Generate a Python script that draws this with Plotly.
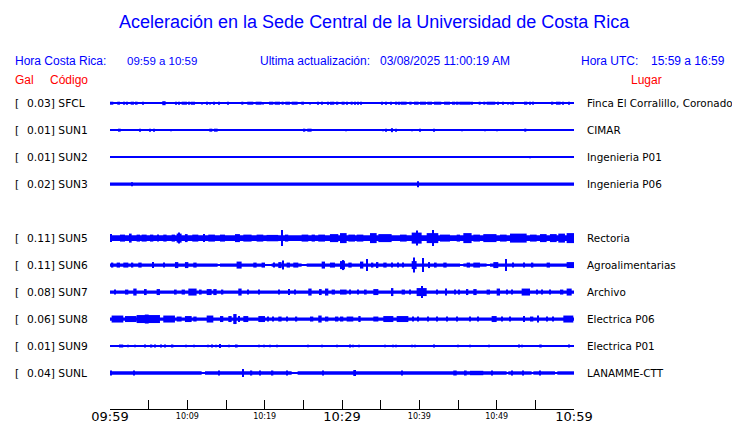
import plotly.graph_objects as go

# ---------------- data ----------------
rows = ["SFCL", "SUN1", "SUN2", "SUN3", None, "SUN5", "SUN6", "SUN7", "SUN8", "SUN9", "SUNL"]
peak_gal = {"SFCL": 0.03, "SUN1": 0.01, "SUN2": 0.01, "SUN3": 0.02, "SUN5": 0.11,
            "SUN6": 0.11, "SUN7": 0.08, "SUN8": 0.06, "SUN9": 0.01, "SUNL": 0.04}
places = {"SFCL": "Finca El Corralillo, Coronado", "SUN1": "CIMAR", "SUN2": "Ingenieria P01",
          "SUN3": "Ingenieria P06", "SUN5": "Rectoria", "SUN6": "Agroalimentarias",
          "SUN7": "Archivo", "SUN8": "Electrica P06", "SUN9": "Electrica P01",
          "SUNL": "LANAMME-CTT"}

# background noise level (display amplitude units)
noise_floor = {"SFCL": 0.6, "SUN1": 0.6, "SUN2": 0.6, "SUN3": 1.6, "SUN5": 2.8,
               "SUN6": 1.6, "SUN7": 1.6, "SUN8": 1.6, "SUN9": 0.6, "SUNL": 1.7}

# quiet intervals (minutes after 09:59) where the trace drops to the base line
quiet = {
    "SUN6": [(13.92, 14.22), (20.04, 20.9), (24.78, 25.43), (45.26, 45.69), (48.7, 49.14)],
    "SUNL": [(11.85, 12.28), (23.49, 24.26), (51.29, 51.51), (54.52, 54.74), (57.54, 57.84)],
}

# bursts: (start minute, end minute, half amplitude)
bursts = {
    "SFCL": [(0.0, 0.43, 1.5), (0.94, 1.29, 1.5), (1.81, 1.94, 1.5), (2.19, 2.19, 1.5), (2.67, 3.10, 1.5),
             (3.36, 3.57, 1.5), (4.26, 4.26, 1.5), (6.76, 7.19, 2.0), (8.53, 8.53, 1.5), (8.92, 8.92, 1.5),
             (9.26, 9.95, 1.5), (10.13, 10.38, 1.5), (10.56, 10.56, 1.5), (10.9, 10.9, 1.5), (11.93, 11.93, 1.2),
             (12.54, 12.54, 1.5), (12.97, 12.97, 1.2), (13.49, 13.49, 1.5), (14.0, 14.22, 1.5), (15.21, 15.21, 1.5),
             (16.98, 17.24, 1.5), (17.75, 18.53, 1.5), (18.83, 19.61, 1.5), (19.78, 19.78, 1.2), (20.56, 21.12, 1.5),
             (21.29, 21.98, 1.5), (22.19, 22.45, 1.5), (22.67, 23.27, 1.5), (23.49, 24.26, 1.5), (24.74, 25.08, 1.5),
             (25.9, 25.9, 1.2), (26.85, 26.85, 1.5), (27.28, 27.54, 1.5), (28.18, 28.18, 1.5), (28.49, 28.66, 1.5),
             (28.83, 29.0, 1.5), (29.22, 29.52, 1.5), (29.95, 30.34, 1.5), (30.52, 30.77, 1.5), (31.12, 31.38, 1.5),
             (31.72, 31.72, 1.5), (32.07, 32.07, 1.5), (32.41, 32.41, 1.5), (35.13, 35.13, 1.5), (35.64, 35.64, 1.5),
             (36.29, 36.29, 1.5), (36.94, 37.15, 1.5), (37.41, 37.41, 1.5), (37.58, 38.36, 1.5), (38.7, 39.0, 1.5),
             (39.31, 39.91, 1.5), (40.08, 40.86, 1.5), (41.03, 41.64, 1.5), (41.89, 42.84, 1.5), (43.19, 43.96, 1.5),
             (44.22, 44.65, 1.5), (44.83, 45.08, 1.5), (45.17, 46.64, 1.5), (46.81, 46.81, 1.5), (47.67, 47.93, 1.5),
             (48.27, 48.53, 1.5), (48.7, 49.82, 1.5), (50.17, 50.17, 1.5), (50.77, 50.77, 1.5), (51.42, 51.42, 1.2),
             (51.81, 51.81, 1.2), (52.07, 52.24, 1.5), (53.53, 53.96, 1.5), (54.22, 54.39, 1.5), (54.57, 54.83, 1.5),
             (57.07, 57.32, 1.5), (57.67, 58.27, 1.5), (58.62, 58.62, 1.5), (59.39, 59.39, 1.5)],
    "SUN1": [(1.16, 1.38, 1.5), (3.92, 3.92, 1.5), (5.17, 5.25, 1.5), (5.69, 5.69, 1.5), (7.93, 7.93, 1.0),
             (12.84, 13.23, 1.5), (13.44, 13.92, 1.5), (25.08, 25.25, 1.5), (25.51, 26.07, 1.5),
             (30.56, 30.56, 1.0), (35.34, 35.34, 1.0), (35.64, 35.64, 1.5), (36.33, 36.59, 2.0),
             (36.98, 36.98, 1.5), (39.09, 39.09, 1.0), (40.13, 40.13, 1.5), (41.94, 41.94, 1.5),
             (45.56, 45.56, 1.0), (48.53, 48.53, 1.0), (50.08, 50.08, 1.0), (53.57, 53.83, 1.5)],
    "SUN2": [(54.35, 54.35, 1.0)],
    "SUN3": [(2.88, 2.88, 2.0), (39.87, 39.87, 3.0)],
    "SUN5": [(0.0, 0.21, 4.0), (1.29, 1.94, 3.5), (2.58, 2.8, 4.5), (3.44, 3.88, 3.5), (4.09, 4.74, 3.5),
             (5.17, 5.6, 3.5), (6.25, 6.25, 3.5), (6.89, 7.32, 3.5), (7.97, 8.4, 3.5), (8.62, 9.26, 4.5),
             (8.92, 8.92, 5.5), (9.69, 10.04, 4.0), (10.64, 11.42, 3.5), (12.06, 12.28, 4.0), (12.71, 13.57, 3.5),
             (14.22, 14.87, 3.5), (16.16, 16.8, 4.0), (17.24, 18.31, 3.5), (18.96, 19.82, 3.5), (20.25, 21.76, 3.2),
             (22.28, 22.28, 8.0), (22.62, 23.05, 3.5), (24.78, 25.64, 3.5), (26.07, 26.5, 3.5), (26.93, 27.8, 3.5),
             (28.44, 29.52, 4.0), (29.74, 30.6, 5.0), (30.82, 31.68, 3.5), (31.9, 32.76, 3.5), (33.62, 34.48, 5.0),
             (34.7, 36.42, 4.0), (37.5, 38.36, 3.5), (39.01, 40.3, 5.5), (39.74, 39.74, 7.5), (40.95, 42.45, 5.0),
             (41.81, 41.81, 8.0), (42.67, 43.96, 3.5), (44.83, 45.26, 3.5), (45.69, 46.76, 5.0), (46.98, 47.84, 3.5),
             (48.27, 49.98, 4.0), (50.43, 51.29, 3.5), (51.72, 53.88, 4.5), (54.31, 55.17, 3.5), (55.6, 56.46, 4.0),
             (56.89, 57.76, 4.0), (57.97, 58.83, 4.5), (59.05, 60.0, 5.0)],
    "SUN6": [(0.21, 0.43, 2.5), (0.86, 1.29, 2.5), (1.72, 2.37, 2.5), (2.8, 3.01, 2.5), (3.66, 4.09, 2.5),
             (5.6, 5.6, 3.0), (6.89, 7.11, 2.5), (8.4, 8.83, 3.0), (9.69, 10.13, 3.0), (10.77, 11.2, 2.5),
             (16.37, 17.02, 3.5), (18.53, 18.96, 2.5), (19.6, 20.04, 2.5), (21.12, 21.33, 2.5), (21.76, 22.19, 3.0),
             (22.41, 22.41, 4.5), (22.84, 23.27, 2.5), (23.7, 24.35, 2.5), (27.37, 27.8, 3.5), (28.44, 29.09, 2.5),
             (29.74, 30.38, 4.0), (30.2, 30.2, 5.0), (30.82, 31.25, 2.5), (32.33, 32.76, 3.5), (33.19, 33.19, 6.0),
             (33.83, 34.05, 2.5), (34.48, 34.7, 3.0), (35.34, 35.77, 2.5), (36.42, 36.42, 2.5), (37.28, 37.28, 2.5),
             (37.93, 37.93, 2.5), (39.01, 39.65, 4.0), (39.31, 39.31, 7.5), (40.52, 40.52, 7.0), (41.16, 41.38, 3.0),
             (42.02, 42.24, 2.5), (43.1, 43.53, 2.5), (46.12, 46.55, 2.5), (46.98, 47.84, 2.5), (49.57, 50.21, 3.0),
             (51.25, 51.25, 6.0), (52.15, 52.15, 2.5), (53.45, 53.66, 2.5), (54.52, 54.74, 2.5), (56.46, 56.89, 2.5),
             (59.05, 60.0, 3.0)],
    "SUN7": [(0.64, 0.64, 2.5), (1.94, 2.37, 2.5), (3.01, 3.44, 3.5), (4.52, 4.74, 3.0), (6.03, 6.46, 3.0),
             (8.4, 8.62, 2.5), (9.26, 9.69, 2.5), (10.13, 11.2, 3.5), (11.63, 11.85, 2.5), (12.5, 13.14, 3.0),
             (13.36, 13.79, 3.0), (14.44, 14.65, 2.5), (16.59, 17.02, 3.5), (17.88, 17.88, 2.5), (19.18, 19.39, 2.5),
             (21.76, 21.98, 2.5), (23.05, 23.27, 3.0), (23.92, 23.92, 2.5), (25.64, 26.07, 3.5), (27.15, 27.37, 3.0),
             (27.8, 28.23, 3.5), (28.66, 29.09, 2.5), (29.74, 30.6, 2.5), (31.03, 31.03, 2.5), (32.11, 32.11, 2.5),
             (32.97, 33.19, 2.5), (34.05, 34.7, 3.0), (36.42, 36.64, 4.0), (37.71, 38.14, 2.5), (38.79, 38.79, 2.5),
             (39.65, 40.95, 4.0), (40.3, 40.3, 6.0), (42.24, 42.24, 2.5), (43.32, 43.53, 3.5), (44.61, 44.61, 2.5),
             (45.04, 45.26, 2.5), (46.12, 46.33, 3.0), (46.98, 47.41, 3.0), (48.7, 49.14, 2.5), (50.0, 50.43, 3.5),
             (51.29, 51.29, 2.5), (51.94, 51.94, 2.5), (53.23, 54.31, 3.5), (55.17, 55.17, 2.5), (55.82, 55.82, 2.5),
             (56.89, 56.89, 2.5), (58.19, 58.62, 2.5), (59.05, 59.7, 3.5)],
    "SUN8": [(0.21, 1.72, 3.5), (1.94, 3.44, 3.0), (3.44, 6.46, 4.0), (4.5, 5.0, 4.5), (6.89, 8.4, 3.5),
             (8.62, 9.26, 2.5), (9.69, 10.56, 3.0), (10.77, 11.2, 2.5), (12.5, 13.36, 3.5), (14.22, 14.65, 3.0),
             (15.3, 15.73, 3.0), (15.94, 16.37, 5.0), (16.59, 16.8, 3.0), (17.24, 17.88, 3.0), (19.18, 20.04, 3.0),
             (20.47, 20.47, 2.5), (21.12, 21.12, 2.5), (21.76, 22.19, 2.5), (22.84, 22.84, 2.5), (24.13, 24.13, 2.5),
             (25.86, 26.29, 2.5), (26.93, 27.37, 3.5), (27.8, 28.23, 2.5), (29.09, 29.52, 2.5), (29.74, 30.17, 2.5),
             (30.6, 31.46, 2.5), (32.11, 32.41, 3.0), (34.05, 34.7, 2.5), (35.34, 36.64, 3.0), (37.07, 38.58, 3.0),
             (39.22, 39.22, 2.5), (39.87, 39.87, 2.5), (41.16, 41.16, 2.5), (42.24, 42.24, 2.5), (43.53, 43.53, 2.5),
             (44.83, 44.83, 2.5), (46.55, 46.55, 2.5), (47.63, 47.63, 2.5), (49.35, 50.0, 3.0), (50.64, 50.64, 2.5),
             (51.72, 51.72, 2.5), (53.45, 53.66, 3.0), (54.31, 54.74, 2.5), (55.38, 55.38, 3.5), (56.46, 56.46, 2.5),
             (57.32, 57.32, 2.5), (58.62, 59.91, 3.5)],
    "SUN9": [(1.29, 1.29, 1.5), (1.63, 1.63, 1.5), (2.37, 2.37, 1.2), (3.23, 3.23, 1.2), (4.44, 4.61, 1.5),
             (5.3, 5.47, 1.5), (5.73, 5.9, 1.5), (6.59, 6.59, 1.5), (7.11, 7.11, 1.5), (7.97, 8.19, 1.5),
             (9.82, 9.82, 1.2), (10.9, 10.9, 1.2), (12.71, 12.71, 1.2), (13.14, 13.14, 1.5), (13.66, 13.66, 1.2),
             (14.22, 14.22, 2.0), (15.38, 15.38, 1.2), (16.16, 16.5, 1.5), (19.26, 19.26, 1.2), (19.95, 19.95, 1.2),
             (20.73, 20.73, 1.2), (21.55, 21.55, 1.2), (25.64, 25.64, 1.2), (27.45, 27.45, 1.2), (29.39, 29.39, 1.2),
             (31.03, 31.16, 1.5), (31.38, 31.38, 1.2), (32.24, 32.24, 1.2), (35.56, 35.56, 1.2), (36.64, 36.64, 1.2),
             (36.98, 36.98, 1.2), (39.01, 39.01, 1.2), (39.44, 39.44, 1.2), (41.94, 41.94, 1.5), (45.04, 45.04, 1.2),
             (46.55, 46.55, 1.2), (49.01, 49.01, 1.2), (52.88, 53.01, 1.5), (53.31, 53.31, 1.2), (55.51, 55.82, 1.5),
             (59.26, 59.48, 1.5)],
    "SUNL": [(0.13, 0.13, 2.5), (3.14, 3.14, 2.5), (14.0, 14.22, 2.5), (17.24, 17.24, 4.0), (18.31, 18.31, 2.5),
             (19.39, 19.39, 2.5), (20.9, 21.12, 2.5), (22.84, 22.84, 2.5), (27.58, 27.58, 2.5), (31.46, 31.81, 3.0),
             (37.71, 37.71, 2.5), (44.39, 44.83, 2.5), (45.9, 46.12, 2.5), (46.55, 48.27, 2.2), (49.35, 49.35, 2.5),
             (51.94, 51.94, 2.5), (53.45, 53.45, 2.5), (55.6, 55.6, 2.5)],
}

tick_minutes = [0, 10, 20, 30, 40, 50, 60]
tick_labels = ["09:59", "10:09", "10:19", "10:29", "10:39", "10:49", "10:59"]
major_ticks = ["09:59", "10:29", "10:59"]

# ---------------- layout constants ----------------
PAGE_W, PAGE_H = 740, 423
OFF = 8                       # page body margin in the browser
W, H = PAGE_W - OFF, PAGE_H - OFF
BLUE = "#0000ff"
RED = "#ff0000"
ROW0, ROWSTEP = 103.2, 26.98  # page pixel rows
AXIS_Y = 409
MIN_W = 0.16  # minutes


def px(x):
    return (x - OFF) / W


def py(y):
    return 1 - (y - OFF) / H


fig = go.Figure()

for i, code in enumerate(rows):
    if code is None:
        continue
    c = ROW0 + ROWSTEP * i
    xs, ws, bases, hs = [], [], [], []

    def add(s, e, a):
        w = max(e - s, MIN_W)
        xs.append((s + e) / 2)
        ws.append(w)
        bases.append(c - a)
        hs.append(2 * a)

    add(0, 60, 0.6)
    floor = noise_floor[code]
    edges = [0.0]
    for s, e in quiet.get(code, []):
        edges += [s, e]
    edges.append(60.0)
    for k in range(0, len(edges), 2):
        add(edges[k], edges[k + 1], floor)
    for s, e, a in bursts[code]:
        add(s, e, a)

    fig.add_trace(go.Bar(x=xs, width=ws, base=bases, y=hs, marker=dict(color=BLUE, line=dict(width=0)),
                         hoverinfo="skip", showlegend=False, xaxis="x", yaxis="y"))

    lf = dict(family="DejaVu Sans", size=10.7, color="black")
    pf = dict(family="DejaVu Sans", size=10.4, color="black")
    fig.add_annotation(x=px(13), xref="paper", y=c, yref="y", text="[", showarrow=False,
                       xanchor="left", yanchor="middle", font=lf)
    fig.add_annotation(x=px(25), xref="paper", y=c, yref="y", text=f"{peak_gal[code]:.2f}] {code}",
                       showarrow=False, xanchor="left", yanchor="middle", font=lf)
    fig.add_annotation(x=px(585), xref="paper", y=c, yref="y", text=places[code], showarrow=False,
                       xanchor="left", yanchor="middle", font=pf)

fig.add_trace(go.Scatter(x=[30], y=[-100], xaxis="x2", yaxis="y", mode="markers",
                         marker=dict(opacity=0), hoverinfo="skip", showlegend=False))

major_vals = [m for m, l in zip(tick_minutes, tick_labels) if l in major_ticks]
major_txt = [l for l in tick_labels if l in major_ticks]
minor_vals = [m for m, l in zip(tick_minutes, tick_labels) if l not in major_ticks]
minor_txt = [l for l in tick_labels if l not in major_ticks]

dom = [px(110), px(574)]
fig.update_layout(
    width=W, height=H, margin=dict(l=0, r=0, t=0, b=0, pad=0), autosize=False,
    paper_bgcolor="white", plot_bgcolor="white", barmode="overlay", showlegend=False,
    xaxis=dict(domain=dom, range=[0, 60], showgrid=False, zeroline=False, showline=True,
               linecolor="black", linewidth=1, ticks="inside", ticklen=9, tickcolor="black",
               tickvals=major_vals, ticktext=major_txt, anchor="y", automargin=False,
               ticklabelstandoff=-5,
               tickfont=dict(family="DejaVu Sans", size=13, color="black"),
               minor=dict(dtick=5, tick0=0, ticks="inside", ticklen=9, tickcolor="black", showgrid=False),
               fixedrange=True),
    xaxis2=dict(domain=dom, range=[0, 60], overlaying="x", anchor="y", side="bottom", automargin=False,
                showgrid=False, zeroline=False, showline=False, ticks="",
                tickvals=minor_vals, ticktext=minor_txt, ticklabelstandoff=1,
                tickfont=dict(family="DejaVu Sans", size=8, color="black"), fixedrange=True),
    yaxis=dict(domain=[py(AXIS_Y), 1], range=[AXIS_Y, OFF], visible=False, fixedrange=True,
               automargin=False),
)


def txt(text, x, y, size, color, anchor="left", family="Liberation Sans"):
    fig.add_annotation(x=px(x), y=py(y), xref="paper", yref="paper", text=text, showarrow=False,
                       xanchor=anchor, yanchor="middle", font=dict(family=family, size=size, color=color))


txt("Aceleración en la Sede Central de la Universidad de Costa Rica", 375, 22, 18, BLUE, "center")
txt("Hora Costa Rica:", 13, 61, 12, BLUE)
txt("09:59 a 10:59", 125, 61, 11.5, BLUE)
txt("Ultima actualización:", 258, 61, 12, BLUE)
txt("03/08/2025 11:00:19 AM", 378, 61, 12, BLUE)
txt("Hora UTC:", 579, 61, 12, BLUE)
txt("15:59 a 16:59", 649, 61, 12, BLUE)
txt("Gal", 13, 80, 12, RED)
txt("Código", 48, 80, 12, RED)
txt("Lugar", 629, 80, 12, RED)

fig.write_html("out.html")
